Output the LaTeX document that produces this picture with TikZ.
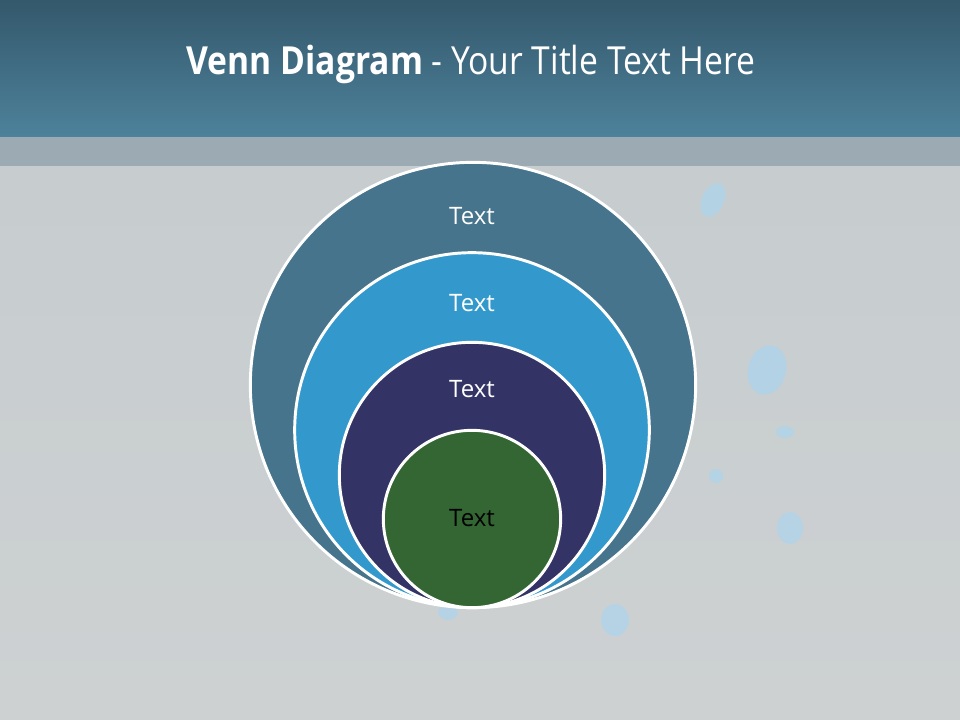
\documentclass[tikz,border=0pt]{standalone}
\usepackage{fontspec}
\setmainfont{Open Sans}
\newfontfamily\titlefont[FakeStretch=0.87]{Open Sans}
\definecolor{barTop}{RGB}{52,88,108}
\definecolor{barBot}{RGB}{77,130,155}
\definecolor{stripGray}{RGB}{156,170,180}
\definecolor{bgTop}{RGB}{197,203,206}
\definecolor{bgBot}{RGB}{205,209,210}
\definecolor{ringA}{RGB}{70,116,140}
\definecolor{ringB}{RGB}{51,153,204}
\definecolor{ringC}{RGB}{51,51,102}
\definecolor{ringD}{RGB}{51,102,51}
\definecolor{glow}{RGB}{160,215,250}
\begin{document}
\begin{tikzpicture}[x=0.75pt, y=-0.75pt,
    ring/.style={circle, draw=white, line width=2.2pt, inner sep=0pt},
    lab/.style={font=\fontsize{18}{20}\selectfont, text=white}]
    % slide background
    \fill[top color=bgTop, bottom color=bgBot] (0,0) rectangle (960,720);
    \useasboundingbox (0,0) rectangle (960,720);
    \fill[top color=barTop, bottom color=barBot] (0,0) rectangle (960,137);
    \fill[stripGray] (0,137) rectangle (960,166);
    % faint glows behind
    \foreach \gx/\gy/\rx/\ry/\rot in {713/200/11/18/-25, 767/370/19/25/-15,
        785/432/9/6/0, 790/528/13/16/0, 615/620/14/16/0, 716/476/7/7/0,
        448/612/10/8/0} {
        \fill[glow, opacity=0.5, rotate around={\rot:(\gx,\gy)}]
            (\gx,\gy) ellipse [x radius=\rx, y radius=\ry];
    }
    % title
    \node[text=white, anchor=base, font=\titlefont\fontsize{29}{32}\selectfont]
        (title) at (471,75) {\textbf{Venn Diagram} - Your Title Text Here};
    % nested circles, all touching at the bottom
    \node[ring, fill=ringA, minimum size=334pt] (outer) at (473,385) {};
    \node[ring, fill=ringB, minimum size=266pt] (second) at (472,430) {};
    \node[ring, fill=ringC, minimum size=199pt] (third) at (472,475) {};
    \node[ring, fill=ringD, minimum size=133pt] (inner) at (472,519) {};
    % labels
    \node[lab] (labA) at (472,216) {Text};
    \node[lab] (labB) at (472,303) {Text};
    \node[lab] (labC) at (472,389) {Text};
    \node[lab, text=black] (labD) at (472,518) {Text};
\end{tikzpicture}
\end{document}
